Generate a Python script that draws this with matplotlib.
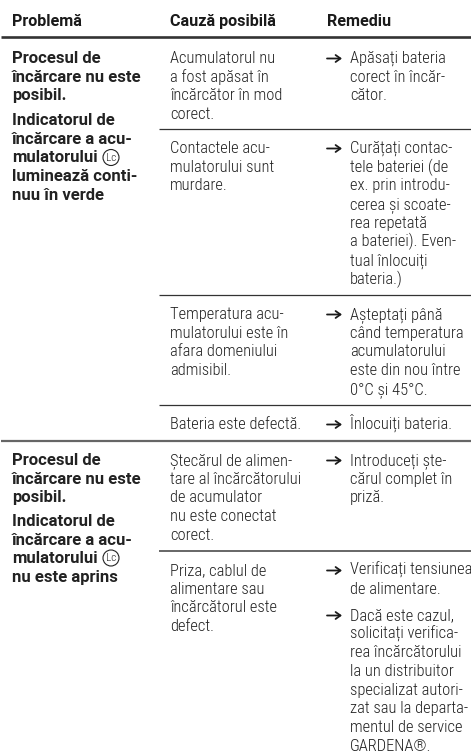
import matplotlib
import matplotlib.pyplot as plt
from matplotlib.patches import Circle

matplotlib.use("Agg")

W, H = 471, 753
FONT = ["Roboto Condensed", "Liberation Sans", "DejaVu Sans"]
FONT_BOLD = ["Roboto", "Liberation Sans", "DejaVu Sans"]
TEXT = "#222222"

headers = ["Problemă", "Cauză posibilă", "Remediu"]

problem_1 = ["Procesul de", "încărcare nu este", "posibil."]
indicator_1 = ["Indicatorul de", "încărcare a acu-", "mulatorului", "luminează conti-", "nuu în verde"]
problem_2 = ["Procesul de", "încărcare nu este", "posibil."]
indicator_2 = ["Indicatorul de", "încărcare a acu-", "mulatorului", "nu este aprins"]

causes = [
    ["Acumulatorul nu", "a fost apăsat în", "încărcător în mod", "corect."],
    ["Contactele acu-", "mulatorului sunt", "murdare."],
    ["Temperatura acu-", "mulatorului este în", "afara domeniului", "admisibil."],
    ["Bateria este defectă."],
    ["Ștecărul de alimen-", "tare al încărcătorului", "de acumulator", "nu este conectat", "corect."],
    ["Priza, cablul de", "alimentare sau", "încărcătorul este", "defect."],
]

remedies = [
    ["Apăsați bateria", "corect în încăr-", "cător."],
    ["Curățați contac-", "tele bateriei (de", "ex. prin introdu-", "cerea și scoate-", "rea repetată",
     "a bateriei). Even-", "tual înlocuiți", "bateria.)"],
    ["Așteptați până", "când temperatura", "acumulatorului", "este din nou între", "0°C și 45°C."],
    ["Înlocuiți bateria."],
    ["Introduceți ște-", "cărul complet în", "priză."],
    ["Verificați tensiunea", "de alimentare."],
    ["Dacă este cazul,", "solicitați verifica-", "rea încărcătorului", "la un distribuitor", "specializat autori-",
     "zat sau la departa-", "mentul de service", "GARDENA®."],
]

# prima linie din fiecare bloc (baseline em px)
cause_y = [63, 153, 319, 429, 465, 575]
remedy_y = [63, 153, 319, 429, 465, 575, 620]
STEP = 18.7
SIZE = 11.85
SIZE_BOLD = 12.0
SIZE_HEADER = 11.6

fig = plt.figure(figsize=(W / 100, H / 100), dpi=100)
ax = fig.add_axes([0, 0, 1, 1])
ax.set_xlim(0, W)
ax.set_ylim(H, 0)
ax.axis("off")


def block(x, y, lines, bold=False):
    for i, line in enumerate(lines):
        ax.text(
            x, y + i * STEP, line, va="baseline", color=TEXT, clip_on=True,
            family=FONT_BOLD if bold else FONT, fontsize=SIZE_BOLD if bold else SIZE,
            fontweight="bold" if bold else 300,
        )


# cabecalho
for x, label in zip([12, 170, 327], headers):
    ax.text(x, 26, label, family=FONT_BOLD, fontsize=SIZE_HEADER, fontweight="bold", va="baseline", color="#1a1a1a")

# linhas da tabela
ax.plot([1, W], [37, 37], color="#333333", lw=1.9, solid_capstyle="butt")
ax.plot([1, W], [441, 441], color="#666666", lw=1.6, solid_capstyle="butt")
ax.plot([159, W], [551, 551], color="#666666", lw=1.4, solid_capstyle="butt")
for y in [129, 295, 405]:
    ax.plot([159, W], [y, y], color="#333333", lw=0.9, solid_capstyle="butt")

block(12, 63, problem_1, bold=True)
block(12, 125, indicator_1, bold=True)
block(12, 465, problem_2, bold=True)
block(12, 526, indicator_2, bold=True)

for y, lines in zip(cause_y, causes):
    block(170, y, lines)

for y, lines in zip(remedy_y, remedies):
    ax.annotate(
        "", xy=(342, y - 4.5), xytext=(327, y - 4.5),
        arrowprops=dict(arrowstyle="->,head_length=0.35,head_width=0.25", color="#1a1a1a", lw=1.3,
                        shrinkA=0, shrinkB=0),
    )
    block(350, y, lines)

# simbolo Lc
for cy in [157.5, 558]:
    ax.add_patch(Circle((111, cy), 8, fill=False, edgecolor=TEXT, lw=0.8))
    ax.text(111, cy + 0.3, "Lc", family=FONT, fontsize=8, fontweight=300, ha="center", va="center", color=TEXT)

fig.savefig("out.png", dpi=100)
plt.close(fig)
